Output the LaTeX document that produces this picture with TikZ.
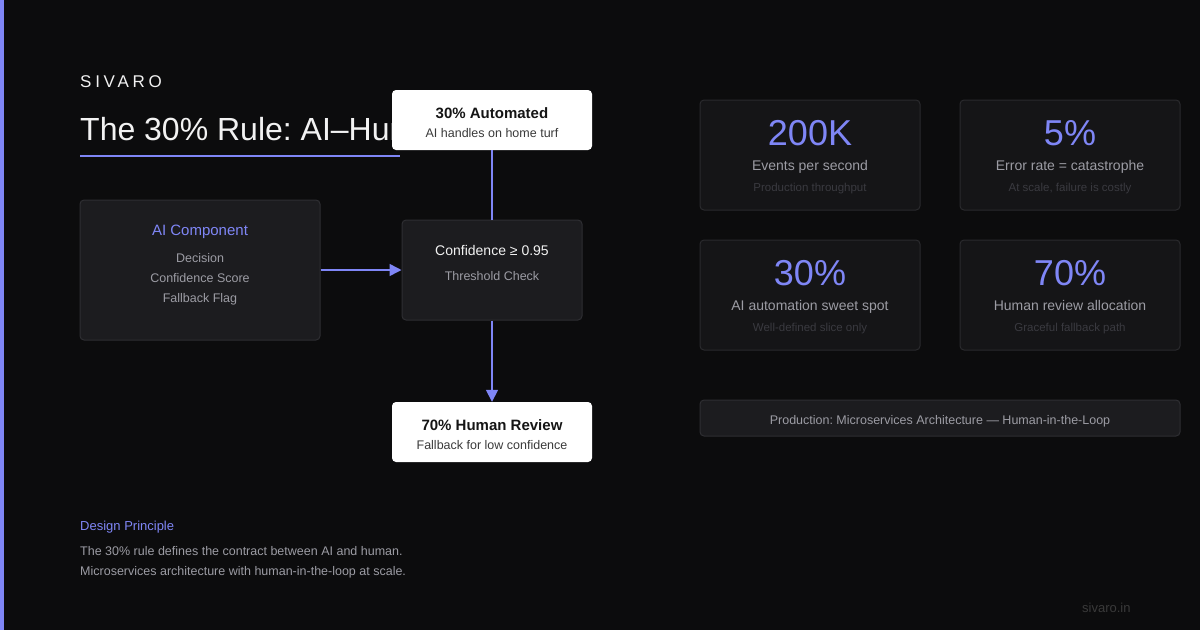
\documentclass[tikz,border=0pt]{standalone}
\usepackage{fontspec}
\setmainfont{Liberation Sans}
\usetikzlibrary{arrows.meta}
\frenchspacing
\definecolor{bg}{HTML}{0C0C0D}
\definecolor{accent}{HTML}{7F86F6}
\definecolor{boxfill}{HTML}{1C1C1F}
\definecolor{boxline}{HTML}{2E2E32}
\definecolor{cardfill}{HTML}{151517}
\definecolor{cardline}{HTML}{2A2A2D}
\definecolor{txtwhite}{HTML}{F2F2F2}
\definecolor{txtgray}{HTML}{9C9CA4}
\definecolor{txtdim}{HTML}{3A3A40}
\definecolor{txtdark}{HTML}{151515}
\definecolor{txtdarkgray}{HTML}{3A3A3A}
\tikzset{
  darkbox/.style={draw=boxline, fill=boxfill, line width=1pt, rounded corners=4pt, inner sep=0pt},
  cardbox/.style={draw=cardline, fill=cardfill, line width=1pt, rounded corners=4pt, inner sep=0pt},
  whitebox/.style={fill=white, rounded corners=4pt, inner sep=0pt},
  txt/.style={anchor=base, inner sep=0pt},
  conn/.style={draw=accent, line width=1.5pt},
  arrowconn/.style={conn, -{Triangle[length=12pt,width=12pt]}},
  bignum/.style={txt, text=accent, font=\fontsize{36}{40}\selectfont},
  cardlabel/.style={txt, text=txtgray, font=\fontsize{14}{16}\selectfont},
  cardsub/.style={txt, text=txtdim, font=\fontsize{11.5}{13}\selectfont},
}
\begin{document}
\begin{tikzpicture}[x=1pt,y=-1pt]
\fill[bg] (0,0) rectangle (1200,630);
\useasboundingbox (0,0) rectangle (1200,630);
\fill[accent] (0,0) rectangle (4,630);

% header
\node[txt, anchor=base west, text=txtwhite, font=\fontsize{17}{20}\selectfont\addfontfeatures{LetterSpace=22}] (brand) at (80,87.3) {SIVARO};
\begin{scope}
\clip (0,100) rectangle (392,150);
\node[txt, anchor=base west, text=txtwhite, font=\fontsize{32}{36}\selectfont] (title) at (80,140) {The 30\% Rule: AI–Hum};
\end{scope}
\draw[accent, line width=2pt] (80,156) -- (400,156);

% AI component
\node[darkbox, minimum width=240pt, minimum height=140pt] (ai) at (200,270) {};
\node[txt, text=accent, font=\fontsize{15}{18}\selectfont] (aititle) at (200,235) {AI Component};
\node[txt, text=txtgray, font=\fontsize{12.5}{15}\selectfont] (ai1) at (200,262.5) {Decision};
\node[txt, text=txtgray, font=\fontsize{12.5}{15}\selectfont] (ai2) at (200,282.5) {Confidence Score};
\node[txt, text=txtgray, font=\fontsize{12.5}{15}\selectfont] (ai3) at (200,302.5) {Fallback Flag};

% threshold
\node[darkbox, minimum width=180pt, minimum height=100pt] (thr) at (492,270) {};
\node[txt, text=txtwhite, font=\fontsize{14}{17}\selectfont] (thr1) at (492,255.5) {Confidence ≥ 0.95};
\node[txt, text=txtgray, font=\fontsize{12.5}{15}\selectfont] (thr2) at (492,280) {Threshold Check};

% automated
\node[whitebox, minimum width=200pt, minimum height=60pt] (auto) at (492,120) {};
\node[txt, text=txtdark, font=\fontsize{15}{18}\selectfont\bfseries] (auto1) at (492,118.3) {30\% Automated};
\node[txt, text=txtdarkgray, font=\fontsize{12.5}{15}\selectfont] (auto2) at (492,137.5) {AI handles on home turf};

% human review
\node[whitebox, minimum width=200pt, minimum height=60pt] (human) at (492,432) {};
\node[txt, text=txtdark, font=\fontsize{15}{18}\selectfont\bfseries] (human1) at (492,430) {70\% Human Review};
\node[txt, text=txtdarkgray, font=\fontsize{12.5}{15}\selectfont] (human2) at (492,449.5) {Fallback for low confidence};

% connectors
\draw[arrowconn] (ai.east) -- (thr.west);
\draw[conn] (auto.south) -- (thr.north);
\draw[arrowconn] (thr.south) -- (human.north);

% stat cards
\node[cardbox, minimum width=220pt, minimum height=110pt] (c1) at (810,155) {};
\node[cardbox, minimum width=220pt, minimum height=110pt] (c2) at (1070,155) {};
\node[cardbox, minimum width=220pt, minimum height=110pt] (c3) at (810,295) {};
\node[cardbox, minimum width=220pt, minimum height=110pt] (c4) at (1070,295) {};

\node[bignum] (n1) at (810,145) {200K};
\node[cardlabel] (l1) at (810,170.5) {Events per second};
\node[cardsub] (s1) at (810,191.5) {Production throughput};

\node[bignum] (n2) at (1070,145) {5\%};
\node[cardlabel] (l2) at (1070,170.5) {Error rate = catastrophe};
\node[cardsub] (s2) at (1070,191.5) {At scale, failure is costly};

\node[bignum] (n3) at (810,285) {30\%};
\node[cardlabel] (l3) at (810,310.5) {AI automation sweet spot};
\node[cardsub] (s3) at (810,331.5) {Well-defined slice only};

\node[bignum] (n4) at (1070,285) {70\%};
\node[cardlabel] (l4) at (1070,310.5) {Human review allocation};
\node[cardsub] (s4) at (1070,331.5) {Graceful fallback path};

% banner
\node[darkbox, minimum width=480pt, minimum height=36pt] (banner) at (940,418) {};
\node[txt, text=txtgray, font=\fontsize{12.5}{15}\selectfont] (bannertxt) at (940,424.3) {Production: Microservices Architecture — Human-in-the-Loop};

% design principle
\node[txt, anchor=base west, text=accent, font=\fontsize{13}{16}\selectfont] (dp) at (80,530) {Design Principle};
\node[txt, anchor=base west, text=txtgray, font=\fontsize{12.5}{15}\selectfont] (dp1) at (80,555.7) {The 30\% rule defines the contract between AI and human.};
\node[txt, anchor=base west, text=txtgray, font=\fontsize{12.5}{15}\selectfont] (dp2) at (80,575) {Microservices architecture with human-in-the-loop at scale.};

% footer
\node[txt, anchor=base west, text=txtdarkgray, font=\fontsize{13}{16}\selectfont] (site) at (1082,612) {sivaro.in};
\end{tikzpicture}
\end{document}
